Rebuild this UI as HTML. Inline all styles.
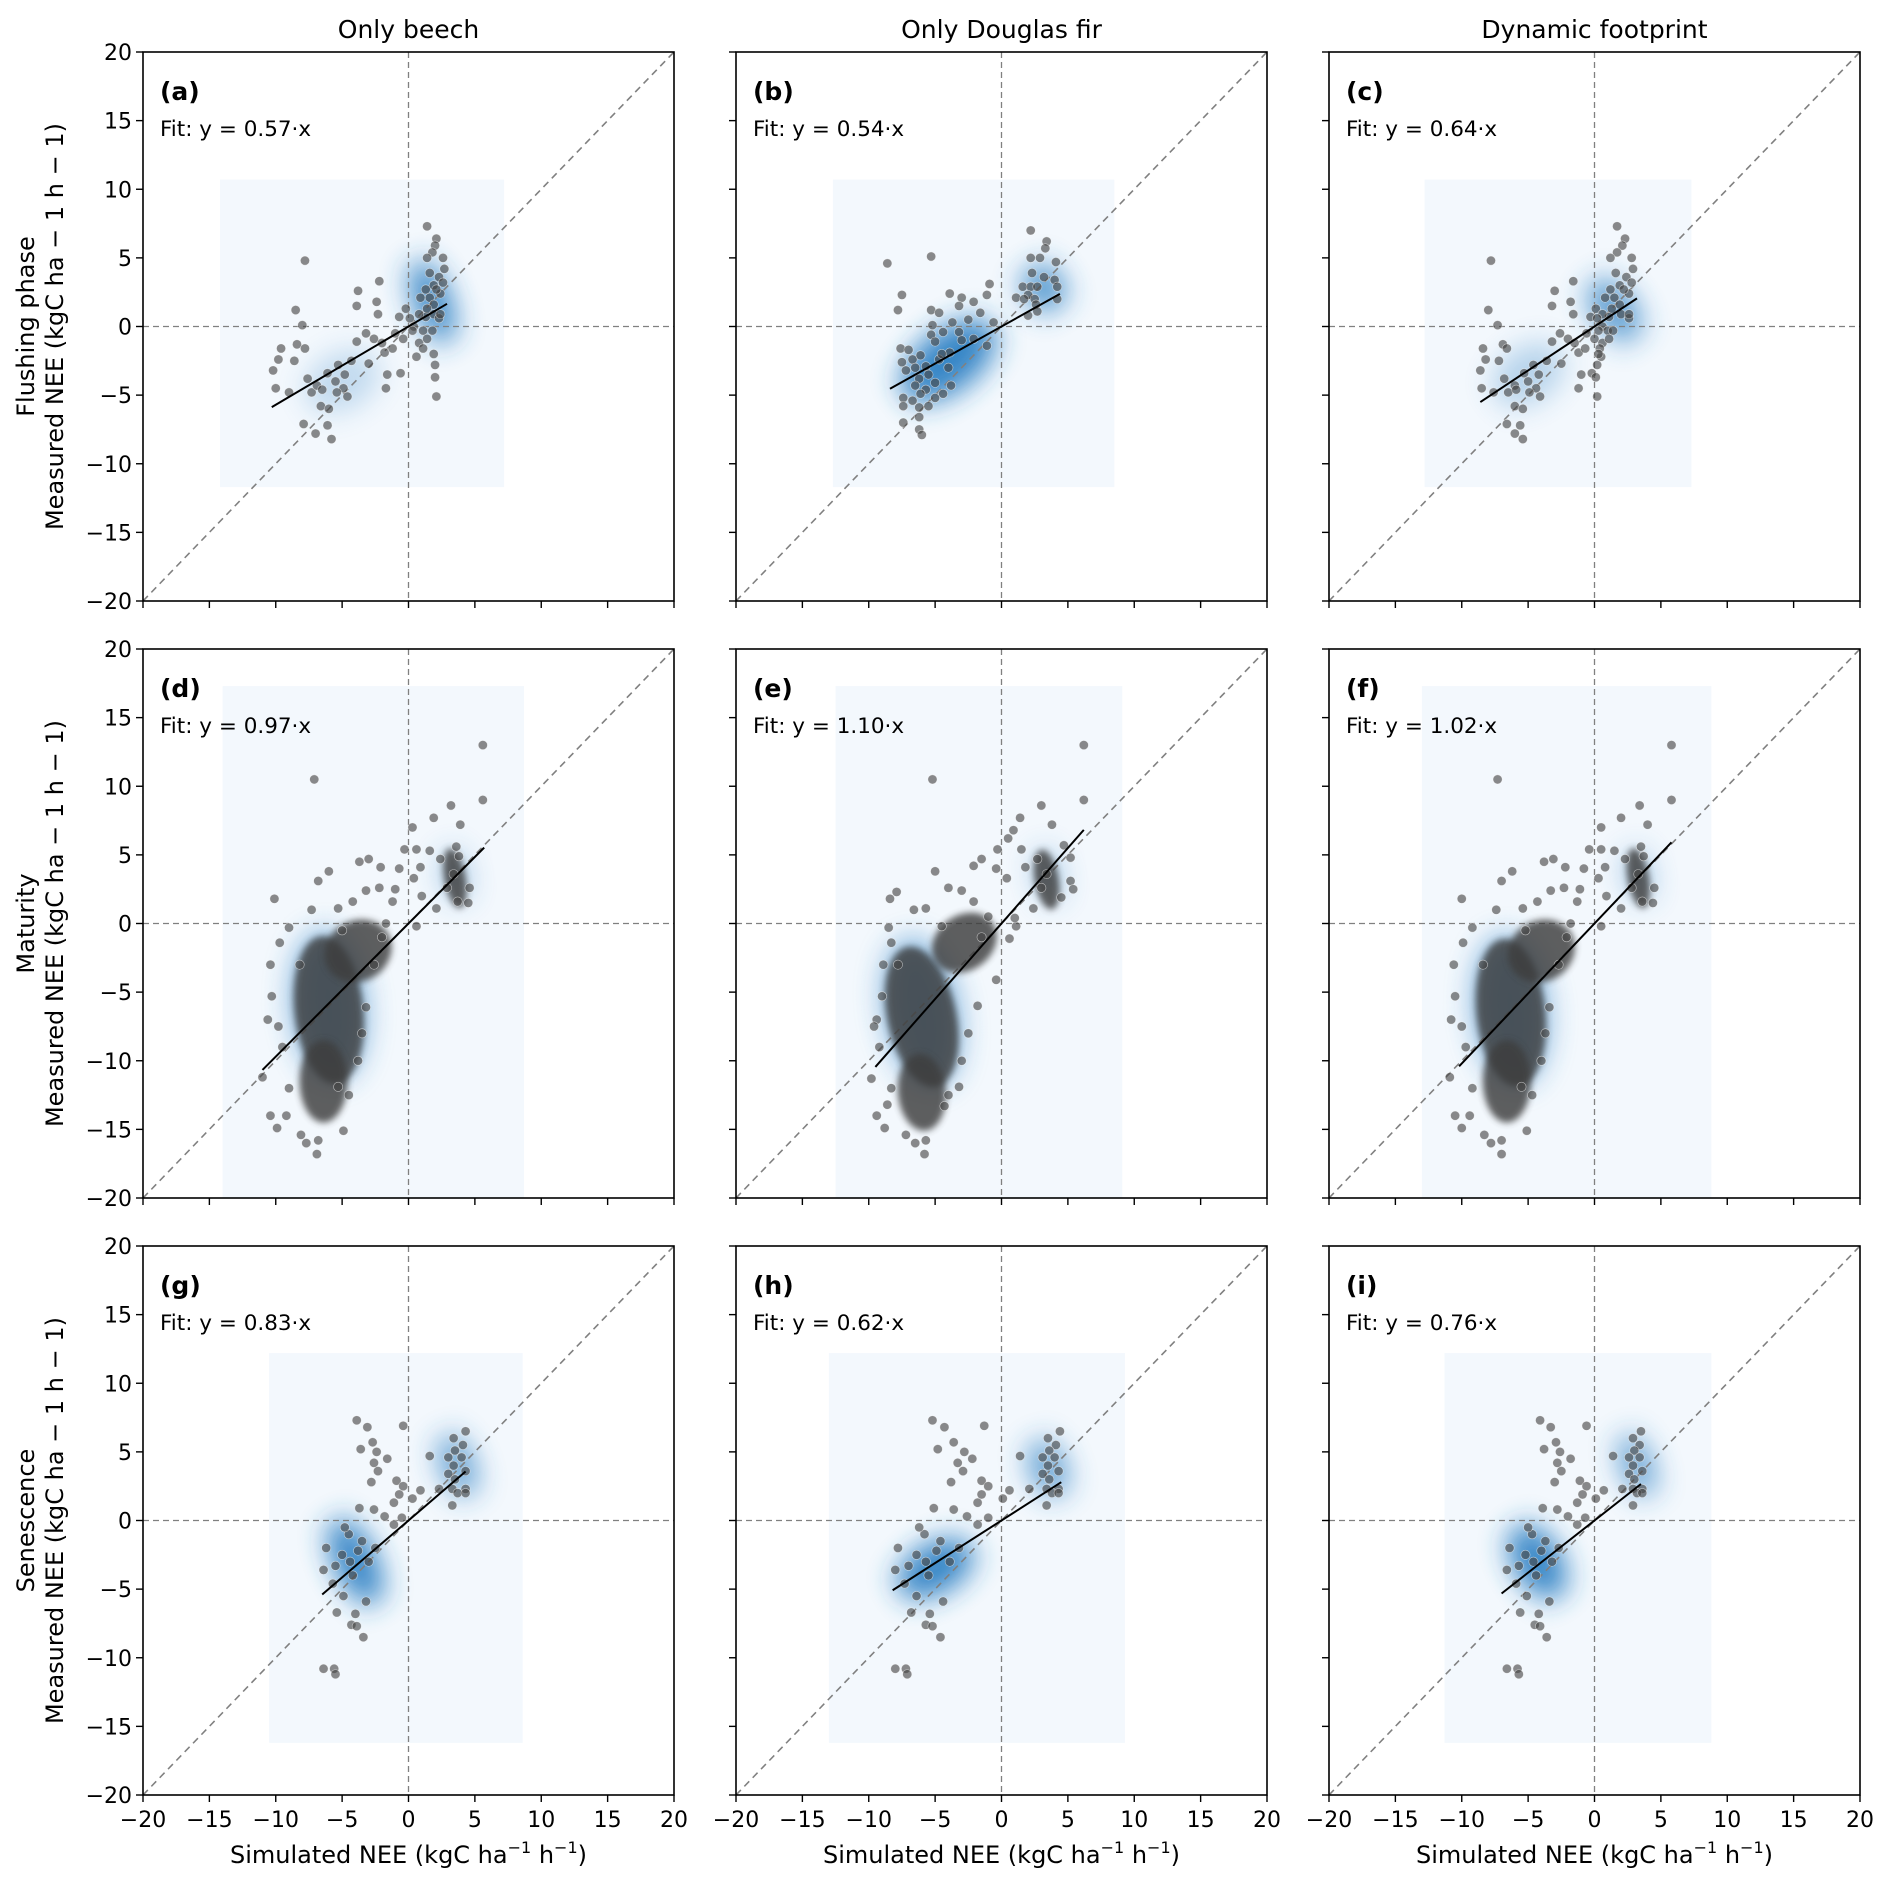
<!DOCTYPE html>
<html><head><meta charset="utf-8"><style>
html,body{margin:0;padding:0;background:#fff;}
svg{display:block;font-family:"DejaVu Sans","Liberation Sans",sans-serif;}
</style></head><body>
<svg id="fig" width="1892" height="1887" viewBox="0 0 1892 1887" xmlns="http://www.w3.org/2000/svg">
<defs>
<filter id="blurK" x="-100%" y="-100%" width="300%" height="300%"><feGaussianBlur stdDeviation="14"/></filter>
<filter id="blurC" x="-50%" y="-50%" width="200%" height="200%"><feGaussianBlur stdDeviation="3.5"/></filter>
</defs>
</svg>
<script>
// ---- data ----
const colTitles = ["Only beech","Only Douglas fir","Dynamic footprint"];
const rowTitles = ["Flushing phase","Maturity","Senescence"];
const panelLetters = ["(a)","(b)","(c)","(d)","(e)","(f)","(g)","(h)","(i)"];
const slopes = [0.57,0.54,0.64,0.97,1.10,1.02,0.83,0.62,0.76];
const fitRanges = [[-10.3,2.9],[-8.4,4.4],[-8.6,3.2],[-11,5.7],[-9.5,6.2],[-10.2,5.8],[-6.5,4.3],[-8.2,4.5],[-7,3.5]];
const kdeBoxes = [[-14.2,7.2,-11.7,10.7],[-12.7,8.5,-11.7,10.7],[-12.8,7.3,-11.7,10.7],
 [-14,8.7,-20,17.3],[-12.5,9.1,-20,17.3],[-13,8.8,-20,17.3],
 [-10.5,8.6,-16.2,12.2],[-13,9.3,-16.2,12.2],[-11.3,8.8,-16.2,12.2]];
const ticks = [-20,-15,-10,-5,0,5,10,15,20];
// kde blobs: [cx, cy, rx, ry, angle, opacity]
const kdeA = [[1.8,1.8,1.4,3.2,-20,0.9],[-5,-4,3,2,-30,0.25]];
const kdeB = [[-4,-2.5,4.2,2.2,-38,0.95],[3.2,2.8,1.6,1.8,-30,0.8]];
const kdeC = [[1.5,1.2,1.6,2.6,-35,0.75],[-5,-3.5,3,2,-35,0.3]];
const kdeD = [[-6,-6,2.8,5.5,-5,0.6],[3.5,3.5,1,2,-10,0.4]];
const kdeE = [[-6,-6.5,2.8,5.5,-10,0.6],[3.5,3.5,1,2,-10,0.4]];
const kdeF = [[-6.3,-6.3,2.8,5.5,-5,0.6],[3.3,3.5,1,2,-10,0.4]];
const kdeG = [[-4,-3,1.6,3.4,-25,0.95],[3.7,4,1.3,2.4,-20,0.7]];
const kdeH = [[-5,-3.5,3.2,1.8,-30,0.95],[3.5,3.8,1.4,2.2,-20,0.7]];
const kdeI = [[-4.3,-3,1.8,3,-30,0.95],[3.2,4,1.2,2.4,-20,0.7]];
// dense point clusters: [cx, cy, rx, ry, angle]
const clD = [[-6,-6.3,2.6,5.4,-6],[-3.8,-2,2.6,2.2,-30],[-6.4,-11.5,1.8,3,0],[3.5,3.3,0.8,2.2,-10]];
const clE = [[-6,-6.8,2.6,5.2,-12],[-2.8,-1.4,2.6,2,-35],[-6,-12.3,1.8,2.8,-5],[3.4,3.2,0.9,2.2,-10]];
const clF = [[-6.3,-6.5,2.6,5.4,-6],[-4,-2,2.6,2.2,-30],[-6.6,-11.5,1.8,3,0],[3.3,3.3,0.8,2.2,-10]];
const ptsA = [[-7.8,4.8],[-8.5,1.2],[-8,0.1],[-9.6,-1.6],[-10.2,-3.2],[-9.8,-2.4],[-10,-4.5],[-9,-4.8],[-8.6,-2.5],[-8.4,-1.3],[-7.8,-1.6],[-7.9,-7.1],[-7,-7.8],[-5.8,-8.2],[-6.1,-7.2],[-6.6,-5.8],[-6,-6],[-7.3,-4.8],[-6.9,-4.3],[-7.6,-3.8],[-6.1,-3.4],[-5.3,-2.8],[-4.8,-3.5],[-4.9,-4.5],[-4.6,-5.1],[-5.4,-4.8],[-4.3,-2.5],[-3.9,-1.1],[-3.8,2.6],[-3.9,1.5],[-3.2,-0.5],[-2.4,1.8],[-2.2,3.3],[-2.3,0.9],[-2.6,-0.9],[-1.8,-1.9],[-1.6,-3.5],[-1.7,-4.5],[-0.7,0.7],[-0.6,-3.4],[-1.2,-1.6],[-0.4,-0.9],[-0.2,1.3],[0.4,0],[0.6,-2.2],[0.8,-1.2],[1.1,-0.3],[1.3,0.7],[1.4,7.3],[2.1,6.4],[2,5.9],[1.8,5.4],[1.4,5],[2.6,5],[2.7,4.2],[1.6,3.9],[1.9,3],[2.3,3.6],[1.3,2.7],[1.6,2.1],[1.9,1.6],[2.4,2.4],[1.4,1.3],[1.9,0.9],[2.3,0.6],[1.8,-0.3],[1.4,-0.9],[1.1,-1.6],[1.9,-2],[2,-2.8],[2,-3.7],[2.1,-5.1],[0.9,2.1],[0.8,0.9],[0.1,0.6],[0.3,-0.3],[2.4,0.9],[2.6,3.2],[2.1,2.7],[-5.5,-4],[-6.5,-4.6],[-3,-2.7],[-2,-1.2],[-1,-0.5]];
const ptsB = [[-8.6,4.6],[-5.3,5.1],[-7.5,2.3],[-7.8,1.2],[-3.9,2.4],[-3,2.1],[-2.1,1.8],[-1.1,2.3],[-0.9,3.1],[-5.3,1.2],[-4.7,1],[-3.2,1.5],[-1.6,1],[-0.6,0.3],[-3.7,0.3],[-5.2,0.1],[-4.4,-0.4],[-5.3,-0.6],[-3.2,-0.4],[-2.1,-0.9],[-1.1,-1.4],[-7.6,-1.6],[-7,-1.7],[-7.5,-2.6],[-6.7,-2.4],[-7.2,-3.2],[-6.1,-2.1],[-5.7,-2.9],[-4.7,-2.4],[-3.9,-1.9],[-5,-1.1],[-6.2,-3.8],[-6.5,-4.3],[-5.7,-4.6],[-6.1,-4.9],[-4.4,-4.9],[-3.8,-4.3],[-5,-4.1],[-7.4,-5.2],[-6.7,-5.4],[-6.2,-5.9],[-5.5,-5.8],[-7.4,-5.8],[-6.2,-6.6],[-7.4,-7],[-6.2,-7.5],[-6,-7.9],[2.2,7],[3.4,6.2],[3.3,5.7],[2.2,5],[2.9,5],[4.1,4.7],[2.3,3.9],[3.2,3.6],[4,3.4],[1.6,2.9],[2.2,2.9],[2.7,2.9],[4.2,2.9],[1.1,2.1],[2,2.3],[2.5,2],[4.2,2],[2.6,1.6],[2,0.8],[2.7,1.1],[1.7,2],[-4.5,-2],[-4,-3],[-5.5,-3.5],[-3,-1],[-2.5,0.5],[-6.5,-3],[-5,-5.2]];
const ptsC = [[-7.8,4.8],[-8,1.2],[-7.3,0.1],[-8.4,-1.6],[-8.6,-3.2],[-8.2,-2.4],[-8.5,-4.5],[-7.6,-4.8],[-7.2,-2.5],[-6.9,-1.3],[-6.6,-1.6],[-6.6,-7.1],[-6,-7.8],[-5.4,-8.2],[-5.6,-7.2],[-6,-5.8],[-5.4,-6],[-6.5,-4.8],[-6,-4.3],[-6.8,-3.8],[-5.3,-3.4],[-4.6,-2.8],[-4.2,-3.5],[-4.4,-4.5],[-4.1,-5.1],[-4.9,-4.8],[-3.6,-2.5],[-3.2,-1.1],[-3,2.6],[-3.2,1.5],[-2.6,-0.5],[-1.8,1.8],[-1.6,3.3],[-1.6,0.9],[-2,-0.9],[-1.2,-1.9],[-1,-3.5],[-1.2,-4.5],[-0.3,0.7],[-0.2,-3.4],[-0.7,-1.6],[0,-0.9],[0.1,1.3],[0.6,0],[0.5,-2.2],[0.6,-1.2],[1,-0.3],[1.1,0.7],[1.7,7.3],[2.3,6.4],[2.1,5.9],[1.7,5.4],[1.2,5],[2.8,5],[2.9,4.2],[1.6,3.9],[1.9,3],[2.4,3.6],[1.2,2.7],[1.5,2.1],[1.9,1.6],[2.6,2.4],[1.3,1.3],[2,0.9],[2.6,0.6],[1.4,-0.3],[1.1,-0.9],[0.4,-1.6],[0.3,-2],[0.2,-2.8],[0.1,-3.7],[0.2,-5.1],[0.8,2.1],[0.6,0.9],[0.2,0.6],[0.3,-0.3],[2.6,0.9],[2.8,3.2],[2.2,2.7],[-5,-4],[-5.9,-4.6],[-2.5,-2.7],[-1.5,-1.2],[-0.6,-0.5]];
const ptsD = [[-7.1,10.5],[5.6,13],[5.6,9],[3.2,8.6],[1.9,7.7],[0.3,7],[3.9,7.2],[-10.1,1.8],[-7.3,1],[-6.8,3.1],[-6,3.8],[-3.7,4.5],[-3,4.7],[-2.1,4.1],[-0.3,5.4],[0.6,5.4],[1.6,5.3],[-0.7,4],[0.4,3.3],[0.9,4.1],[2.4,4.7],[4.6,2.6],[4.5,1.5],[3.7,1.6],[2.1,1.1],[0.6,-0.2],[-9,-0.3],[-9.7,-1.4],[-10.4,-3],[-10.3,-5.3],[-10.6,-7],[-11,-11.2],[-10.4,-14],[-9.9,-14.9],[-9.2,-14],[-8.1,-15.4],[-7.7,-16],[-6.9,-16.8],[-6.8,-15.8],[-4.9,-15.1],[-5.3,-11.9],[-3.2,-6.1],[-2.6,-3],[-1.7,0],[-1.2,1.6],[-2.2,2.6],[-3.2,2.4],[-4.2,1.6],[-5.3,1.1],[2.9,2.6],[3.4,3.6],[3.8,4.9],[3.6,5.6],[-9.5,-9],[-9.8,-7.5],[-9,-12],[-3.5,-8],[-3.8,-10],[-4.5,-12.5],[-8.2,-3],[-5,-0.5],[-1,2.5],[1,2],[-2,-1]];
const ptsE = [[-5.2,10.5],[6.2,13],[6.2,9],[3,8.6],[1.4,7.7],[0.9,6.8],[3.8,7.2],[-8.4,1.8],[-6.6,1],[-7.9,2.3],[-5,3.8],[-1.5,4.7],[-2.1,4.2],[-0.3,5.4],[0.5,6.2],[1.5,5.4],[-0.4,4],[0.4,3.3],[1.8,4.1],[2.7,4.7],[5.2,3.1],[5.4,2.5],[4.5,1.9],[2.4,1.1],[1.1,-0.2],[-8.5,-0.3],[-8.3,-1.4],[-8.9,-3],[-9,-5.3],[-9.4,-7],[-9.8,-11.3],[-9.4,-14],[-8.8,-14.9],[-8.6,-13.2],[-7.2,-15.4],[-6.5,-16],[-5.8,-16.8],[-5.7,-15.8],[-4.3,-13.3],[-3.2,-11.9],[-1.8,-6],[-0.4,-4.1],[0.6,-1.1],[-2.1,1.6],[-3,2.4],[-4,2.6],[-5.7,1.1],[3,2.6],[3.4,3.6],[4.7,5.7],[5.2,4.8],[-9.2,-9],[-9.6,-7.5],[-8.3,-12],[-2.5,-8],[-3,-10],[-4,-12.5],[-7.8,-3],[-4.5,-0.2],[-1,0.5],[1,0.4],[-1.5,-1]];
const ptsF = [[-7.3,10.5],[5.8,13],[5.8,9],[3.4,8.6],[2,7.7],[0.5,7],[4,7.2],[-10,1.8],[-7.4,1],[-7,3.1],[-6.2,3.8],[-3.8,4.5],[-3.1,4.7],[-2.2,4.1],[-0.4,5.4],[0.5,5.4],[1.5,5.3],[-0.8,4],[0.3,3.3],[0.8,4.1],[2.3,4.7],[4.5,2.6],[4.4,1.5],[3.6,1.6],[2,1.1],[0.5,-0.2],[-9.2,-0.3],[-9.9,-1.4],[-10.6,-3],[-10.5,-5.3],[-10.8,-7],[-10.9,-11.2],[-10.5,-14],[-10,-14.9],[-9.4,-14],[-8.3,-15.4],[-7.8,-16],[-7,-16.8],[-7,-15.8],[-5.1,-15.1],[-5.5,-11.9],[-3.4,-6.1],[-2.7,-3],[-1.8,0],[-1.3,1.6],[-2.3,2.6],[-3.3,2.4],[-4.3,1.6],[-5.4,1.1],[2.8,2.6],[3.3,3.6],[3.7,4.9],[3.5,5.6],[-9.7,-9],[-10,-7.5],[-9.2,-12],[-3.7,-8],[-4,-10],[-4.7,-12.5],[-8.4,-3],[-5.2,-0.5],[-1.1,2.5],[0.9,2],[-2.1,-1]];
const ptsG = [[-3.9,7.3],[-3.1,6.8],[-0.4,6.9],[-2.7,5.7],[-2.4,5],[-3.6,5.2],[-2.6,4.2],[-1.6,4.5],[-2.3,3.6],[-2.8,2.8],[-0.9,2.9],[-0.4,2.5],[-0.7,1.9],[-1.1,1.3],[0.3,1.6],[0.9,2.2],[1.6,4.7],[2.3,2.3],[-3.7,0.9],[-2.6,0.8],[-1.8,0.3],[-1.1,-0.3],[-0.5,0.2],[-6.2,-2],[-6.4,-3.6],[-5.7,-4.6],[-4.9,-5.5],[-5.4,-6.7],[-4,-6.8],[-4.3,-7.6],[-3.9,-7.7],[-3.4,-8.5],[-3.2,-5.9],[-6.4,-10.8],[-5.6,-10.8],[-5.5,-11.2],[4.3,6.5],[3.4,6],[4.1,5.5],[3.5,5.1],[3,4.6],[4,4.6],[3.4,4],[4.3,3.6],[3,3.4],[3.5,3],[3.3,2.3],[4.3,2.3],[3.7,2],[4.3,2],[3.3,1.1],[-4.5,-1],[-3.5,-1.5],[-5,-2.5],[-3,-3],[-4.2,-4],[-5.5,-3.3],[-2.5,-2],[-4.8,-0.5],[-3.8,-2.2],[-4.4,-3]];
const ptsH = [[-5.2,7.3],[-4.3,6.8],[-1.3,6.9],[-3.6,5.7],[-2.8,5],[-4.8,5.2],[-3.3,4.2],[-2.2,4.5],[-2.9,3.6],[-3.8,2.8],[-1.5,2.9],[-1,2.5],[-1.5,1.9],[-1.8,1.3],[0.1,1.6],[0.6,2.2],[1.4,4.7],[2.1,2.3],[-5.1,0.9],[-3.6,0.8],[-2.6,0.3],[-1.8,-0.3],[-1,0.2],[-7.8,-2],[-8,-3.6],[-7.3,-4.6],[-6.4,-5.5],[-6.8,-6.7],[-5.4,-6.8],[-5.7,-7.6],[-5.2,-7.7],[-4.6,-8.5],[-4.4,-5.9],[-8,-10.8],[-7.2,-10.8],[-7.1,-11.2],[4.4,6.5],[3.5,6],[4.1,5.5],[3.6,5.1],[3.1,4.6],[4,4.6],[3.5,4],[4.3,3.6],[3.1,3.4],[3.6,3],[3.4,2.3],[4.3,2.3],[3.8,2],[4.3,2],[3.4,1.1],[-5.8,-1],[-4.6,-1.5],[-6.4,-2.5],[-3.9,-3],[-5.5,-4],[-7,-3.3],[-3.2,-2],[-6.2,-0.5],[-4.9,-2.2],[-5.7,-3]];
const ptsI = [[-4.1,7.3],[-3.3,6.8],[-0.6,6.9],[-2.9,5.7],[-2.6,5],[-3.8,5.2],[-2.8,4.2],[-1.8,4.5],[-2.5,3.6],[-3,2.8],[-1.1,2.9],[-0.6,2.5],[-0.9,1.9],[-1.3,1.3],[0.1,1.6],[0.7,2.2],[1.4,4.7],[2.1,2.3],[-3.9,0.9],[-2.8,0.8],[-2,0.3],[-1.3,-0.3],[-0.7,0.2],[-6.4,-2],[-6.6,-3.6],[-5.9,-4.6],[-5.1,-5.5],[-5.6,-6.7],[-4.2,-6.8],[-4.5,-7.6],[-4.1,-7.7],[-3.6,-8.5],[-3.4,-5.9],[-6.6,-10.8],[-5.8,-10.8],[-5.7,-11.2],[3.5,6.5],[2.9,6],[3.4,5.5],[3,5.1],[2.6,4.6],[3.4,4.6],[2.9,4],[3.6,3.6],[2.6,3.4],[3,3],[2.9,2.3],[3.6,2.3],[3.2,2],[3.6,2],[2.9,1.1],[-4.7,-1],[-3.7,-1.5],[-5.2,-2.5],[-3.2,-3],[-4.4,-4],[-5.7,-3.3],[-2.7,-2],[-5,-0.5],[-4,-2.2],[-4.6,-3]];
const allPts = [ptsA,ptsB,ptsC,ptsD,ptsE,ptsF,ptsG,ptsH,ptsI];
const allKde = [kdeA,kdeB,kdeC,kdeD,kdeE,kdeF,kdeG,kdeH,kdeI];
const allCl = [[],[],[],clD,clE,clF,[],[],[]];

// ---- layout ----
const NS = "http://www.w3.org/2000/svg";
const svg = document.getElementById('fig');
const colX = [143,736,1329], rowY = [52,649,1246], PW = 531, PH = 549;
function mk(tag, attrs, parent){ const e=document.createElementNS(NS,tag); for(const k in attrs) e.setAttribute(k,attrs[k]); (parent||svg).appendChild(e); return e; }
function fmt(v){ return v<0 ? "\u2212"+Math.abs(v) : String(v); }

for(let r=0;r<3;r++){
 for(let c=0;c<3;c++){
  const i=r*3+c, x0=colX[c], y0=rowY[r];
  const sx=v=>x0+(v+20)/40*PW, sy=v=>y0+(20-v)/40*PH;
  const g=mk('g',{});
  
  
  const cp=mk('clipPath',{id:'cp'+i},svg); mk('rect',{x:x0,y:y0,width:PW,height:PH},cp);
  const inner=mk('g',{'clip-path':'url(#cp'+i+')'},g);
  const b=kdeBoxes[i];
  const box=mk('rect',{x:sx(b[0]),y:sy(b[3]),width:sx(b[1])-sx(b[0]),height:sy(b[2])-sy(b[3]),fill:'#f3f8fd'},inner);
  
  
  allKde[i].forEach(k=>{
   const e=mk('ellipse',{cx:sx(k[0]),cy:sy(k[1]),rx:k[2]/40*PW,ry:k[3]/40*PH,fill:'#2b7fc3',opacity:k[5],filter:'url(#blurK)',transform:'rotate('+k[4]+' '+sx(k[0])+' '+sy(k[1])+')'},inner);
   
   
  });
  const dg=mk('line',{x1:sx(-20),y1:sy(-20),x2:sx(20),y2:sy(20),stroke:'#808080','stroke-width':1.6,'stroke-dasharray':'7,5'},inner);
  
  
  const vl=mk('line',{x1:sx(0),y1:y0,x2:sx(0),y2:y0+PH,stroke:'#808080','stroke-width':1.3,'stroke-dasharray':'6,4'},inner);
  
  
  const hl=mk('line',{x1:x0,y1:sy(0),x2:x0+PW,y2:sy(0),stroke:'#808080','stroke-width':1.3,'stroke-dasharray':'6,4'},inner);
  
  
  allCl[i].forEach(k=>{
   const e=mk('ellipse',{cx:sx(k[0]),cy:sy(k[1]),rx:k[2]/40*PW,ry:k[3]/40*PH,fill:'#3d3d3d',opacity:0.82,filter:'url(#blurC)',transform:'rotate('+k[4]+' '+sx(k[0])+' '+sy(k[1])+')'},inner);
   
   
  });
  allPts[i].forEach(p=>{
   const d=mk('circle',{cx:sx(p[0]),cy:sy(p[1]),r:4.6,fill:'#444','fill-opacity':0.62,stroke:'#ffffff','stroke-width':0.6,'stroke-opacity':0.6},inner);
   
   
  });
  const fr=fitRanges[i];
  const fl=mk('line',{x1:sx(fr[0]),y1:sy(fr[0]*slopes[i]),x2:sx(fr[1]),y2:sy(fr[1]*slopes[i]),stroke:'#000','stroke-width':2},inner);
  
  
  const fr2=mk('rect',{x:x0,y:y0,width:PW,height:PH,fill:'none',stroke:'#000','stroke-width':1.6},g);
  
  
  ticks.forEach(t=>{
   const tx=mk('line',{x1:sx(t),y1:y0+PH,x2:sx(t),y2:y0+PH+7,stroke:'#000','stroke-width':1.4},g);
   
   
   const ty=mk('line',{x1:x0-7,y1:sy(t),x2:x0,y2:sy(t),stroke:'#000','stroke-width':1.4},g);
   
   
   if(c===0){
    const l=mk('text',{x:x0-11,y:sy(t)+8,'text-anchor':'end','font-size':22,fill:'#000'},g); l.textContent=fmt(t);
    
    
   }
   if(r===2){
    const l=mk('text',{x:sx(t),y:y0+PH+32,'text-anchor':'middle','font-size':22,fill:'#000'},g); l.textContent=fmt(t);
    
    
   }
  });
  const pl=mk('text',{x:x0+17,y:y0+48,'font-size':25,'font-weight':'bold',fill:'#000'},g); pl.textContent=panelLetters[i];
  
  
  const ft=mk('text',{x:x0+17,y:y0+84,'font-size':21.5,fill:'#000'},g); ft.textContent='Fit: y = '+slopes[i].toFixed(2)+'\u00b7x';
  
  
  if(r===0){
   const tt=mk('text',{x:x0+PW/2,y:y0-14,'text-anchor':'middle','font-size':25,fill:'#000'},g); tt.textContent=colTitles[c];
   
   
  }
  if(r===2){
   const xl=mk('text',{x:x0+PW/2,y:y0+PH+68,'text-anchor':'middle','font-size':24,fill:'#000'},g);
   xl.innerHTML='Simulated NEE (kgC ha<tspan dy="-10" font-size="16">\u22121</tspan><tspan dy="10"> h</tspan><tspan dy="-10" font-size="16">\u22121</tspan><tspan dy="10">)</tspan>';
   
   
  }
  if(c===0){
   const cy=y0+PH/2;
   const yl=mk('text',{x:0,y:0,'text-anchor':'middle','font-size':24,fill:'#000',transform:'translate(34 '+cy+') rotate(-90)'},g);
   yl.textContent=rowTitles[r];
   
   
   const yl2=mk('text',{x:0,y:0,'text-anchor':'middle','font-size':24,fill:'#000',transform:'translate(63 '+cy+') rotate(-90)'},g);
   yl2.textContent='Measured NEE (kgC ha \u2212 1 h \u2212 1)';
   
   
  }
 }
}
</script>
</body></html>
